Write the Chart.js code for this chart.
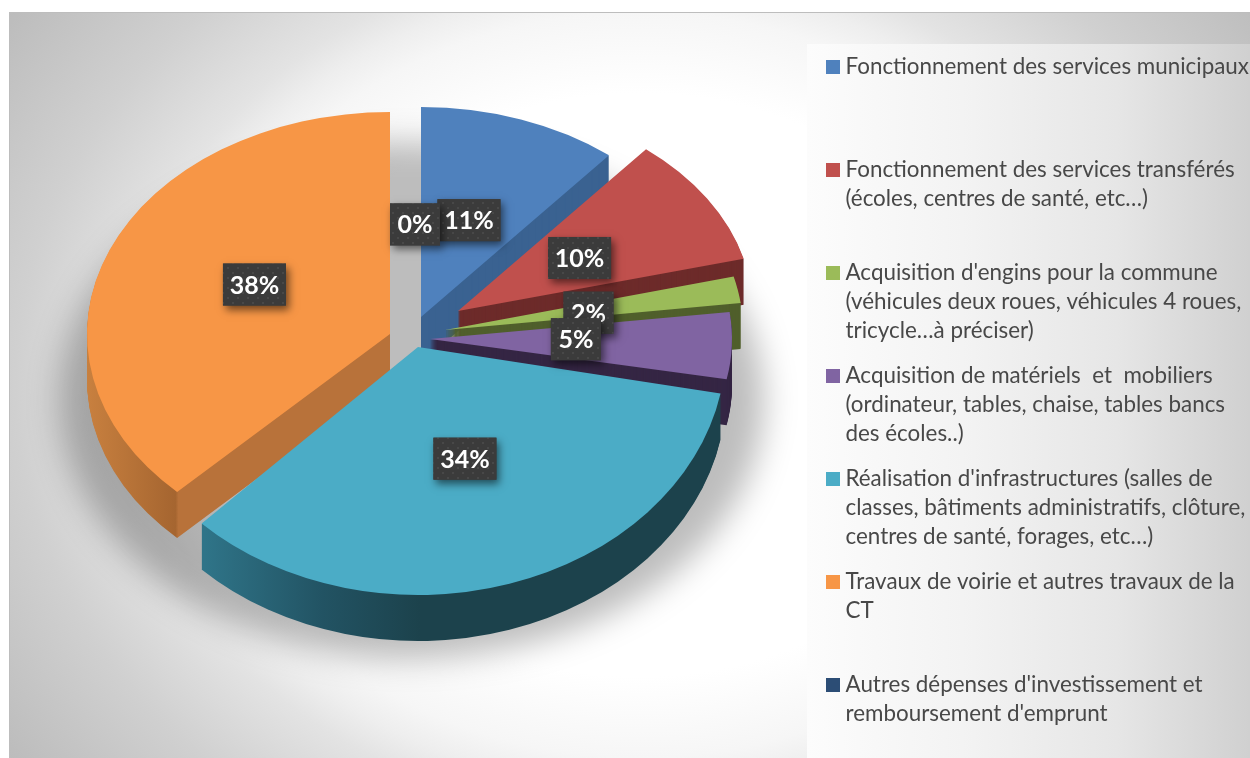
<!DOCTYPE html>
<html><head><meta charset="utf-8">
<style>html,body{margin:0;padding:0;background:#fff;overflow:hidden}canvas{display:block}</style>
<script src="https://cdn.jsdelivr.net/npm/chart.js@4"></script>
</head><body><canvas id="c" width="1250" height="758"></canvas>
<script>
const categories = [
  "Fonctionnement des services municipaux",
  "Fonctionnement des services transférés (écoles, centres de santé, etc…)",
  "Acquisition d'engins pour la commune (véhicules deux roues, véhicules 4 roues, tricycle…à préciser)",
  "Acquisition de matériels  et  mobiliers (ordinateur, tables, chaise, tables bancs des écoles..)",
  "Réalisation d'infrastructures (salles de classes, bâtiments administratifs, clôture, centres de santé, forages, etc…)",
  "Travaux de voirie et autres travaux de la CT",
  "Autres dépenses d'investissement et remboursement d'emprunt"
];
const legendLines = [
  ["Fonctionnement des services municipaux"],
  ["Fonctionnement des services transférés","(écoles, centres de santé, etc…)"],
  ["Acquisition d'engins pour la commune","(véhicules deux roues, véhicules 4 roues,","tricycle…à préciser)"],
  ["Acquisition de matériels  et  mobiliers","(ordinateur, tables, chaise, tables bancs","des écoles..)"],
  ["Réalisation d'infrastructures (salles de","classes, bâtiments administratifs, clôture,","centres de santé, forages, etc…)"],
  ["Travaux de voirie et autres travaux de la","CT"],
  ["Autres dépenses d'investissement et","remboursement d'emprunt"]
];
// slice shares; the printed labels are these rounded
const values = [11, 10, 2, 5, 34.4, 37.6, 0];
const colors = ["#4f81bd","#c0504d","#9bbb59","#8064a2","#4bacc6","#f79646","#2c4d75"];
const sideColors = ["#3a6291","#6d2b2a","#505f2c","#352644",null,null,"#1f3754"];
// 3-D look of each exploded slice: apex on the page, horizontal and vertical radii
const apexX = [421,458,445,430,418,390,415];
const apexY = [317,311,330,339,347,334,330];
const radX  = [295,295,298,302,308,303,300];
const radY  = [210,210,215,215,248,222,220];
const labelNudgeX = [0,2,3,1,3,-1,0];
const labelNudgeY = [-2,1,2,-3,-2,-9,0];
const DEPTH = 46, BASE_R = 300, LABEL_F = 0.48;
const drawOrder = [0,1,2,3,5,4];

function withSlice(ctx, el, i, dy, fn){
  ctx.save();
  ctx.translate(apexX[i], apexY[i] + dy);
  ctx.scale(radX[i]/BASE_R, radY[i]/BASE_R);
  ctx.translate(-el.x, -el.y);
  fn();
  ctx.restore();
}
function sideFill(ctx, el, i){
  if(sideColors[i]) return sideColors[i];
  const lx = px => el.x + (px-apexX[i])*BASE_R/radX[i];
  if(i===4){
    const g = ctx.createLinearGradient(lx(205),0,lx(420),0);
    g.addColorStop(0,'#2f7488'); g.addColorStop(0.55,'#225363'); g.addColorStop(1,'#1c424c');
    return g;
  }
  const a = lx(87), b = lx(390);
  const g = ctx.createLinearGradient(a,0,b,0);
  const k = (177-87)/(390-87);
  g.addColorStop(0,'#c8803f'); g.addColorStop(k-0.005,'#a56530');
  g.addColorStop(k+0.005,'#b8723a'); g.addColorStop(1,'#b8723a');
  return g;
}

const pie3d = {
  id:'pie3d',
  beforeDraw(chart){
    const ctx = chart.ctx;
    ctx.save();
    ctx.fillStyle = '#fff'; ctx.fillRect(0,0,1250,758);
    // frame background
    ctx.save();
    ctx.beginPath(); ctx.rect(9,12,1241,746); ctx.clip();
    ctx.translate(640,385); ctx.scale(1,1/1.2);
    const g = ctx.createRadialGradient(0,0,0,0,0,800);
    [[0,'#ffffff'],[350,'#ffffff'],[447,'#f6f6f6'],[483,'#eeeeee'],[520,'#e3e3e3'],[625,'#d0d0d0'],[765,'#bdbdbd'],[800,'#bababa']]
      .forEach(s=>g.addColorStop(s[0]/800,s[1]));
    ctx.fillStyle = g; ctx.fillRect(-800,-800,1600,1600);
    ctx.restore();
    // legend panel
    const pg = ctx.createLinearGradient(807,0,1250,0);
    pg.addColorStop(0,'#fcfcfc'); pg.addColorStop(0.35,'#f3f3f3'); pg.addColorStop(0.7,'#e6e6e6'); pg.addColorStop(1,'#d0d0d0');
    ctx.fillStyle = pg; ctx.fillRect(807,44,443,714);
    ctx.fillStyle = '#bdbdbd'; ctx.fillRect(9,12,1241,1); ctx.fillRect(9,12,1,746);
    // cast shadow
    ctx.save();
    ctx.filter = 'blur(16px)';
    ctx.fillStyle = 'rgba(0,0,0,0.26)';
    ctx.beginPath(); ctx.ellipse(412,400,352,258,0,0,Math.PI*2); ctx.fill();
    ctx.restore();
    ctx.restore();
  },
  beforeDatasetDraw(chart){
    const ctx = chart.ctx;
    const arcs = chart.getDatasetMeta(0).data;
    drawOrder.forEach(i=>{
      const el = arcs[i];
      const top = el.options;
      el.options = Object.assign({}, top, {backgroundColor: sideFill(ctx, el, i)});
      for(let d=DEPTH; d>=1; d--) withSlice(ctx, el, i, d, ()=>el.draw(ctx));
      el.options = top;
      withSlice(ctx, el, i, 0, ()=>el.draw(ctx));
    });
    return false;
  },
  afterDraw(chart){
    const ctx = chart.ctx;
    const arcs = chart.getDatasetMeta(0).data;
    // value labels
    const pc = document.createElement('canvas'); pc.width = pc.height = 10;
    const p = pc.getContext('2d');
    p.fillStyle = '#3b3b3b'; p.fillRect(0,0,10,10);
    p.fillStyle = '#484848'; p.fillRect(2,2,2,2); p.fillRect(7,7,2,2);
    const pattern = ctx.createPattern(pc,'repeat');
    ctx.font = 'bold 25px Lato';
    ctx.textAlign = 'center'; ctx.textBaseline = 'middle';
    values.forEach((v,i)=>{
      const el = arcs[i];
      const mid = (el.startAngle+el.endAngle)/2;
      const cx = apexX[i] + Math.cos(mid)*radX[i]*LABEL_F + labelNudgeX[i];
      const cy = apexY[i] + Math.sin(mid)*radY[i]*LABEL_F + labelNudgeY[i];
      const txt = Math.round(v)+'%';
      const w = v>=10 ? 63 : 50, h = 42;
      ctx.save();
      ctx.shadowColor = 'rgba(0,0,0,0.55)'; ctx.shadowBlur = 8; ctx.shadowOffsetX = 3; ctx.shadowOffsetY = 4;
      ctx.fillStyle = '#3b3b3b';
      ctx.fillRect(cx-w/2, cy-h/2, w, h);
      ctx.restore();
      ctx.fillStyle = pattern;
      ctx.fillRect(cx-w/2, cy-h/2, w, h);
      ctx.fillStyle = '#fff';
      ctx.fillText(txt, cx, cy+1);
    });
    // legend
    ctx.textAlign = 'left'; ctx.textBaseline = 'middle';
    ctx.font = '22.4px Lato';
    legendLines.forEach((lines,i)=>{
      const y0 = 67 + i*103;
      ctx.fillStyle = colors[i];
      ctx.fillRect(826, y0-7, 14, 14);
      ctx.fillStyle = '#484848';
      lines.forEach((t,j)=>ctx.fillText(t, 845.5, y0 + j*29));
    });
  }
};

new Chart(document.getElementById('c'),{
  type:'pie',
  data:{labels:categories,datasets:[{data:values,backgroundColor:colors,borderWidth:0,radius:BASE_R,hoverOffset:0}]},
  options:{
    responsive:false,animation:false,
    layout:{padding:{right:420}},
    plugins:{legend:{display:false},tooltip:{enabled:false}}
  },
  plugins:[pie3d]
});
</script></body></html>
